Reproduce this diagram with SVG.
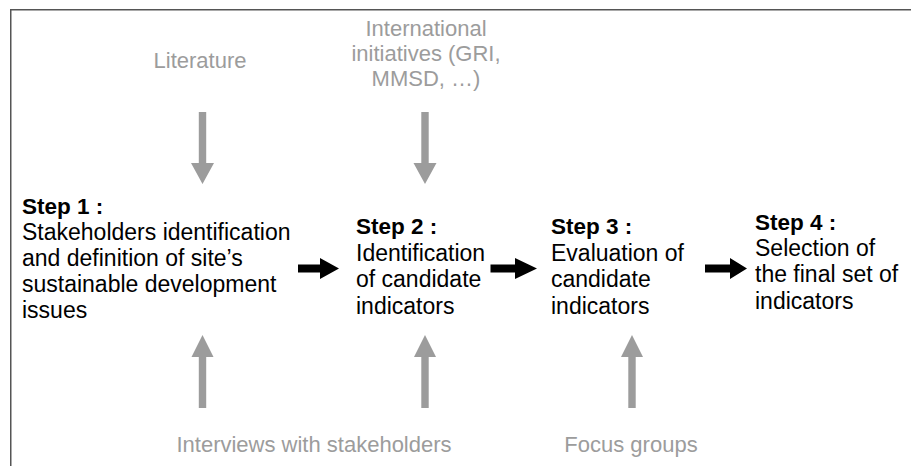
<svg xmlns="http://www.w3.org/2000/svg" width="911" height="466" viewBox="0 0 911 466">
<style>
  text { font-family: "Liberation Sans", Arial, sans-serif; font-size: 23px; }
  .src { fill: #9c9c9c; text-anchor: middle; font-size: 22px; }
  .step { fill: #000; }
  .title { font-weight: bold; font-size: 22.5px; }
  .gray { fill: #9c9c9c; }
  .black { fill: #000; }
</style>
<defs>
  <path id="down" d="M-3.7,0 H3.7 V51 H11.5 L0,72 L-11.5,51 H-3.7 Z"/>
  <path id="up" d="M-3.7,73 H3.7 V22 H11 L0,0 L-11,22 H-3.7 Z"/>
</defs>
<rect width="911" height="466" fill="#fff"/>
<path d="M10.75,466 V9.75 H911" fill="none" stroke="#555" stroke-width="1.5"/>

<g id="literature">
  <text class="src" x="200" y="68">Literature</text>
</g>
<g id="international">
  <text class="src" x="426" y="36">International</text>
  <text class="src" x="426" y="61">initiatives (GRI,</text>
  <text class="src" x="426" y="86">MMSD, …)</text>
</g>
<g id="interviews">
  <text class="src" x="314" y="452">Interviews with stakeholders</text>
</g>
<g id="focus">
  <text class="src" x="631" y="452">Focus groups</text>
</g>

<g id="step1" class="step">
  <text x="22" y="214" class="title">Step 1 :</text>
  <text x="22" y="240">Stakeholders identification</text>
  <text x="22" y="266">and definition of site’s</text>
  <text x="22" y="292">sustainable development</text>
  <text x="22" y="318">issues</text>
</g>
<g id="step2" class="step">
  <text x="356" y="234" class="title">Step 2 :</text>
  <text x="356" y="261">Identification</text>
  <text x="356" y="287">of candidate</text>
  <text x="356" y="314">indicators</text>
</g>
<g id="step3" class="step">
  <text x="551" y="234" class="title">Step 3 :</text>
  <text x="551" y="261">Evaluation of</text>
  <text x="551" y="287">candidate</text>
  <text x="551" y="314">indicators</text>
</g>
<g id="step4" class="step">
  <text x="755" y="230" class="title">Step 4 :</text>
  <text x="755" y="256">Selection of</text>
  <text x="755" y="282">the final set of</text>
  <text x="755" y="309">indicators</text>
</g>

<g id="connectors">
  <g class="gray">
    <use href="#down" x="202.5" y="112"/>
    <use href="#down" x="425" y="112"/>
    <use href="#up" x="202.5" y="335"/>
    <use href="#up" x="425" y="335"/>
    <use href="#up" x="632" y="335"/>
  </g>
  <g class="black">
    <path d="M298,264.5 H320 V258 L339,268.5 L320,279 V272.5 H298 Z"/>
    <path d="M490.5,264.5 H515 V258 L537,268.5 L515,279 V272.5 H490.5 Z"/>
    <path d="M705,264.5 H730 V258 L747,268.5 L730,279 V272.5 H705 Z"/>
  </g>
</g>
</svg>
